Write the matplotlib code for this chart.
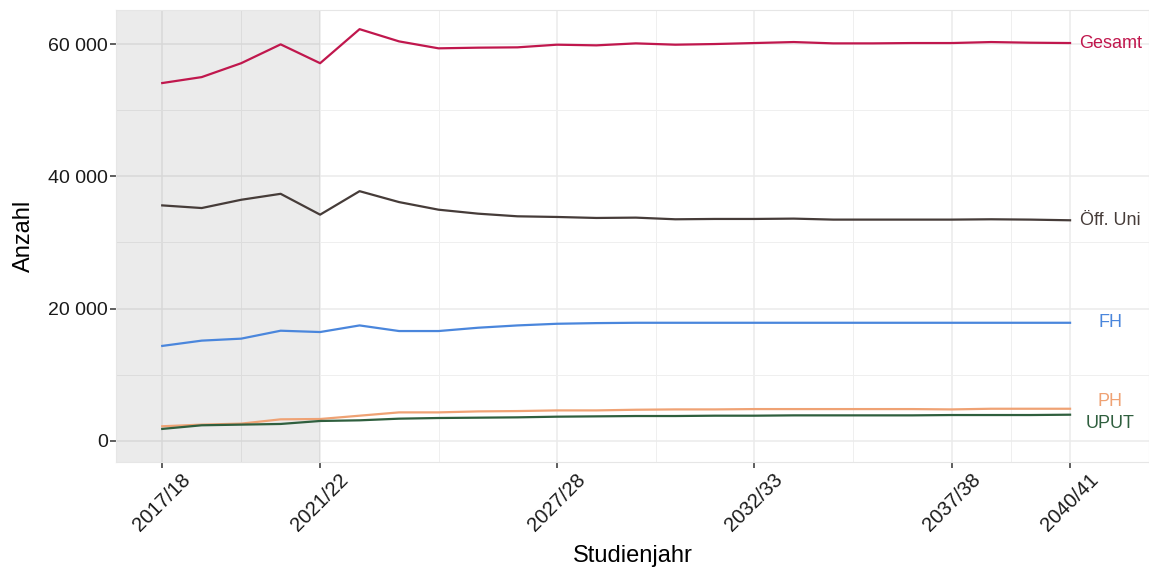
import numpy as np
import matplotlib.pyplot as plt

plt.rcParams['font.family'] = ['Liberation Sans', 'DejaVu Sans']

years = [f"{y}/{str(y + 1)[-2:]}" for y in range(2017, 2041)]
gesamt = [54100, 55000, 57100, 59950, 57100, 62250, 60400, 59350, 59450, 59500,
          59900, 59800, 60100, 59900, 60000, 60150, 60300, 60100, 60100, 60150,
          60150, 60300, 60200, 60150]
oeff_uni = [35600, 35200, 36450, 37350, 34200, 37750, 36100, 34950, 34350, 33950,
            33850, 33700, 33750, 33500, 33550, 33550, 33600, 33450, 33450, 33450,
            33450, 33500, 33450, 33350]
fh = [14350, 15150, 15450, 16650, 16450, 17450, 16600, 16600, 17100, 17450,
      17700, 17800, 17850, 17850, 17850, 17850, 17850, 17850, 17850, 17850,
      17850, 17850, 17850, 17850]
ph = [2200, 2450, 2600, 3250, 3300, 3800, 4300, 4300, 4450, 4500,
      4600, 4600, 4700, 4750, 4750, 4800, 4800, 4800, 4800, 4800,
      4750, 4850, 4850, 4850]
uput = [1800, 2350, 2450, 2550, 3000, 3100, 3350, 3450, 3500, 3550,
        3650, 3700, 3750, 3750, 3800, 3800, 3850, 3850, 3850, 3850,
        3900, 3900, 3900, 3950]

series = [
    ("Gesamt", gesamt, "#C0174D", 0),
    ("Öff. Uni", oeff_uni, "#463C39", 0),
    ("FH", fh, "#4A86DC", 0),
    ("PH", ph, "#EFA274", 5),
    ("UPUT", uput, "#2F5F3E", -6.5),
]

tick_years = ["2017/18", "2021/22", "2027/28", "2032/33", "2037/38", "2040/41"]

x = np.arange(len(years))
tick_pos = [years.index(t) for t in tick_years]
minor_pos = [(a + b) / 2 for a, b in zip(tick_pos[:-1], tick_pos[1:])]

fig = plt.figure(figsize=(11.49, 5.70), dpi=100)
ax = fig.add_axes([0.101, 0.1895, 0.899, 0.793])

ax.set_xlim(-1.17, 25.0)
ax.set_ylim(-3200, 65150)

# grid
for p in tick_pos:
    ax.axvline(p, color="#EBEBEB", lw=1.1, zorder=0)
for p in minor_pos:
    ax.axvline(p, color="#EFEFEF", lw=0.7, zorder=0)
for v in [0, 20000, 40000, 60000]:
    ax.axhline(v, color="#EBEBEB", lw=1.1, zorder=0)
for v in [10000, 30000, 50000]:
    ax.axhline(v, color="#EFEFEF", lw=0.7, zorder=0)

# historic period shading
ax.axvspan(-1.17, years.index("2021/22"), color="black", alpha=0.08, lw=0, zorder=1)

for name, vals, col, dy in series:
    ax.plot(x, vals, color=col, lw=1.6, zorder=3)
    ax.annotate(name, xy=(x[-1], vals[-1]), xytext=(29, dy), textcoords="offset points",
                ha="center", va="center", color=col, fontsize=13)

ax.set_xticks(tick_pos)
ax.set_xticklabels(tick_years, rotation=45, ha="center", va="top",
                   fontsize=14.5, color="#1a1a1a")
ax.set_yticks([0, 20000, 40000, 60000])
ax.set_yticklabels(["0", "20 000", "40 000", "60 000"], fontsize=14, color="#1a1a1a")
ax.tick_params(axis="both", length=4, width=1.1, color="#333333")
ax.tick_params(axis="x", pad=2)
ax.tick_params(axis="y", pad=2)

for s in ax.spines.values():
    s.set_color("#E6E6E6")
    s.set_linewidth(0.8)

ax.set_xlabel("Studienjahr", fontsize=17, labelpad=7)
ax.set_ylabel("Anzahl", fontsize=17, labelpad=9)

fig.savefig("out.png", dpi=100)
